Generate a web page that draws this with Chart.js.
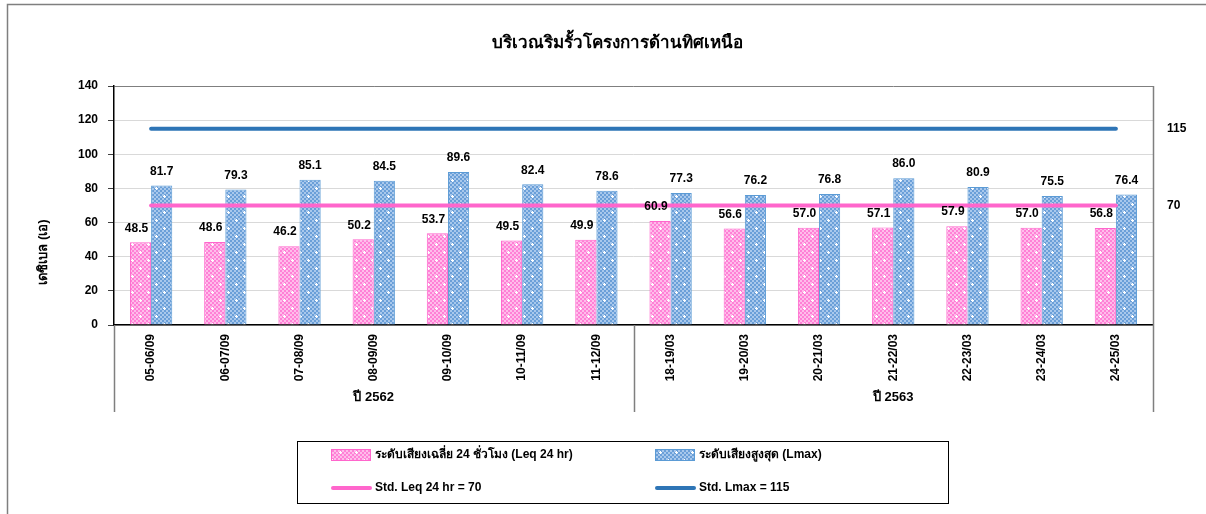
<!DOCTYPE html>
<html>
<head>
<meta charset="utf-8">
<script src="https://cdn.jsdelivr.net/npm/chart.js@4/dist/chart.umd.min.js"></script>
<style>
html,body{margin:0;padding:0;background:#fff;}
#wrap{width:1206px;height:514px;position:relative;}
</style>
</head>
<body>
<div id="wrap"><canvas id="c" width="1206" height="514"></canvas></div>
<script>
const titleText = 'บริเวณริมรั้วโครงการด้านทิศเหนือ';
const yTitle = 'เดซิเบล (เอ)';
const categories = ['05-06/09','06-07/09','07-08/09','08-09/09','09-10/09','10-11/09','11-12/09','18-19/03','19-20/03','20-21/03','21-22/03','22-23/03','23-24/03','24-25/03'];
const groupLabels = ['ปี 2562','ปี 2563'];
const groupSizes = [7, 7];
const leq24 = [48.5,48.6,46.2,50.2,53.7,49.5,49.9,60.9,56.6,57.0,57.1,57.9,57.0,56.8];
const lmax = [81.7,79.3,85.1,84.5,89.6,82.4,78.6,77.3,76.2,76.8,86.0,80.9,75.5,76.4];
const stdLeq = 70;
const stdLmax = 115;
const seriesNames = ['ระดับเสียงเฉลี่ย 24 ชั่วโมง (Leq 24 hr)','ระดับเสียงสูงสุด (Lmax)','Std. Leq 24 hr = 70','Std. Lmax = 115'];
const yTicks = {min:0, max:140, step:20};

const FONT = "'Liberation Sans', Arial, sans-serif";

function makePattern(base, light) {
  const c = document.createElement('canvas');
  c.width = 16; c.height = 16;
  const g = c.getContext('2d');
  for (let y = 0; y < 16; y += 2) {
    for (let x = 0; x < 16; x += 2) {
      g.fillStyle = ((x + y) / 2) % 2 ? base : light;
      g.fillRect(x, y, 2, 2);
    }
  }
  g.fillStyle = '#ffffff';
  [[4,4],[12,12]].forEach(([cx,cy]) => {
    g.fillRect(cx-1, cy, 3, 1);
    g.fillRect(cx, cy-1, 1, 3);
  });
  return document.getElementById('c').getContext('2d').createPattern(c, 'repeat');
}
const pinkPattern = makePattern('#FF80D6', '#FFBCEA');
const bluePattern = makePattern('#6A9FD8', '#A8C8EC');

const decorPlugin = {
  id: 'decor',
  beforeDraw(chart) {
    const ctx = chart.ctx;
    ctx.save();
    ctx.fillStyle = '#fff';
    ctx.fillRect(0, 0, chart.width, chart.height);
    ctx.strokeStyle = '#7f7f7f';
    ctx.lineWidth = 1.5;
    ctx.beginPath();
    ctx.moveTo(7.5, chart.height);
    ctx.lineTo(7.5, 4.5);
    ctx.lineTo(chart.width, 4.5);
    ctx.stroke();
    ctx.fillStyle = '#000';
    ctx.font = 'bold 17px ' + FONT;
    ctx.textAlign = 'center';
    ctx.textBaseline = 'middle';
    ctx.fillText(titleText, 617, 43);
    ctx.restore();
  },
  afterDraw(chart) {
    const ctx = chart.ctx;
    const ca = chart.chartArea;
    const xs = chart.scales.x;
    const groupBottom = xs.bottom;
    ctx.save();
    ctx.strokeStyle = '#7f7f7f';
    ctx.lineWidth = 1.5;
    const bounds = [];
    let idx = 0;
    const half = (xs.getPixelForValue(1) - xs.getPixelForValue(0)) / 2;
    bounds.push(xs.getPixelForValue(0) - half);
    groupSizes.forEach(s => { idx += s; bounds.push(xs.getPixelForValue(idx - 1) + half); });
    ctx.beginPath();
    bounds.forEach((b, i) => {
      const top = (i === bounds.length - 1) ? ca.top : ca.bottom;
      ctx.moveTo(Math.round(b) + 0.5, top);
      ctx.lineTo(Math.round(b) + 0.5, groupBottom);
    });
    ctx.stroke();
    ctx.fillStyle = '#000';
    ctx.font = 'bold 13px ' + FONT;
    ctx.textAlign = 'center';
    ctx.textBaseline = 'middle';
    groupLabels.forEach((g, i) => {
      ctx.fillText(g, (bounds[i] + bounds[i+1]) / 2, groupBottom - 15);
    });
    ctx.save();
    ctx.translate(43, (ca.top + groupBottom) / 2 + 3);
    ctx.rotate(-Math.PI / 2);
    ctx.font = 'bold 13px ' + FONT;
    ctx.fillText(yTitle, 0, 0);
    ctx.restore();

    ctx.font = 'bold 12px ' + FONT;
    ctx.textBaseline = 'bottom';
    ctx.fillStyle = '#000';
    [0, 1].forEach(di => {
      const meta = chart.getDatasetMeta(di);
      const data = chart.data.datasets[di].data;
      meta.data.forEach((el, i) => {
        const off = di === 0 ? -4 : 0;
        ctx.fillText(data[i].toFixed(1), el.x + off, el.y - 8);
      });
    });
    ctx.textAlign = 'left';
    ctx.textBaseline = 'middle';
    [2, 3].forEach(di => {
      const meta = chart.getDatasetMeta(di);
      const data = chart.data.datasets[di].data;
      const last = meta.data[meta.data.length - 1];
      ctx.fillText(String(data[data.length - 1]), ca.right + 14, last.y);
    });

    const lx = 297.5, ly = 441.5, lw = 651, lh = 62;
    ctx.strokeStyle = '#000';
    ctx.lineWidth = 1;
    ctx.strokeRect(lx, ly, lw, lh);
    const cols = [331, 655];
    const rows = [455, 488];
    ctx.font = 'bold 12px ' + FONT;
    chart.data.datasets.forEach((ds, i) => {
      const cx = cols[i % 2], cy = rows[Math.floor(i / 2)];
      if (ds.type === 'bar') {
        ctx.fillStyle = ds.backgroundColor;
        ctx.fillRect(cx, cy - 6, 40, 12);
        ctx.strokeStyle = ds.borderColor;
        ctx.strokeRect(cx + 0.5, cy - 5.5, 39, 11);
      } else {
        ctx.strokeStyle = ds.borderColor;
        ctx.lineWidth = 4;
        ctx.lineCap = 'round';
        ctx.beginPath();
        ctx.moveTo(cx + 2, cy);
        ctx.lineTo(cx + 39, cy);
        ctx.stroke();
        ctx.lineWidth = 1;
      }
      ctx.fillStyle = '#000';
      ctx.fillText(ds.label, cx + 44, cy);
    });
    ctx.restore();
  }
};

const n = categories.length;
new Chart(document.getElementById('c'), {
  data: {
    labels: categories,
    datasets: [
      {type:'bar', label: seriesNames[0], data: leq24, backgroundColor: pinkPattern, borderColor:'#FF66CC', borderWidth:1, order:2, categoryPercentage:0.57, barPercentage:1},
      {type:'bar', label: seriesNames[1], data: lmax, backgroundColor: bluePattern, borderColor:'#5B9BD5', borderWidth:1, order:2, categoryPercentage:0.57, barPercentage:1},
      {type:'line', label: seriesNames[2], data: new Array(n).fill(stdLeq), borderColor:'#FF66CC', borderWidth:4, pointRadius:0, order:1, borderCapStyle:'round'},
      {type:'line', label: seriesNames[3], data: new Array(n).fill(stdLmax), borderColor:'#2E75B6', borderWidth:4, pointRadius:0, order:1, borderCapStyle:'round'}
    ]
  },
  options: {
    responsive: false,
    animation: false,
    layout: { padding: { left: 0, right: 53, top: 86, bottom: 102 } },
    plugins: {
      legend: { display: false },
      tooltip: { enabled: false },
      title: { display: false }
    },
    scales: {
      x: {
        grid: { display: false, drawTicks: false },
        border: { display: true, color: '#000', width: 1.5 },
        ticks: { color:'#000', font: { family: FONT, size: 12, weight: 'bold' }, minRotation: 90, maxRotation: 90, padding: 9, autoSkip: false },
        afterFit(s) { s.height = 87; }
      },
      y: {
        min: yTicks.min, max: yTicks.max,
        ticks: { stepSize: yTicks.step, color:'#000', font: { family: FONT, size: 12, weight: 'bold' }, padding: 10 },
        grid: { color: c => c.tick && c.tick.value === yTicks.max ? '#7f7f7f' : '#D9D9D9', tickColor: '#404040', tickLength: 6, lineWidth: 1 },
        border: { display: true, color: '#000', width: 1.5 },
        afterFit(s) { s.width = 114; }
      }
    }
  },
  plugins: [decorPlugin]
});
</script>
</body>
</html>
